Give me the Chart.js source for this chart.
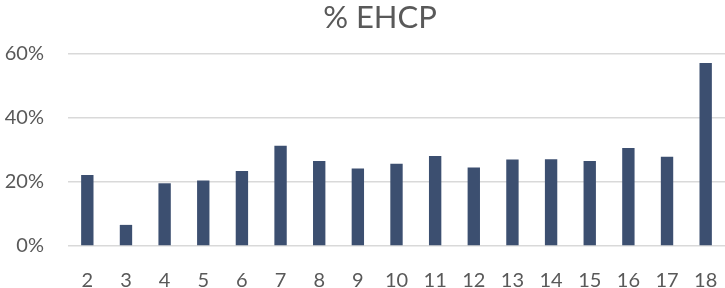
<!DOCTYPE html>
<html lang="en">
<head>
    <meta charset="UTF-8">
    <title>% EHCP</title>
    <script src="https://cdn.jsdelivr.net/npm/chart.js"></script>
    <style>
        html, body {
            margin: 0;
            padding: 0;
            background: #ffffff;
        }
        #wrap {
            width: 725px;
            height: 288px;
        }
    </style>
</head>
<body>
    <div id="wrap">
        <canvas id="chart" width="725" height="288"></canvas>
    </div>

    <script>
        // Year groups and % of pupils with an EHCP
        const years = ['2', '3', '4', '5', '6', '7', '8', '9', '10', '11', '12', '13', '14', '15', '16', '17', '18'];
        const ehcpPct = [22.2, 6.6, 19.6, 20.5, 23.4, 31.3, 26.6, 24.2, 25.7, 28.1, 24.5, 27.0, 27.1, 26.6, 30.6, 27.9, 57.2];
        const yTicks = [0, 20, 40, 60];
        const chartTitle = '% EHCP';

        const textColor = '#595959';
        const fontFamily = 'Lato, "Open Sans", sans-serif';

        // title sits a little right of the canvas centre in the original
        const titlePlugin = {
            id: 'offsetTitle',
            afterDraw(chart) {
                const ctx = chart.ctx;
                ctx.save();
                ctx.fillStyle = textColor;
                ctx.font = '31px ' + fontFamily;
                ctx.textAlign = 'center';
                ctx.textBaseline = 'middle';
                ctx.fillText(chartTitle, 380, 18);
                ctx.restore();
            }
        };

        new Chart(document.getElementById('chart'), {
            type: 'bar',
            data: {
                labels: years,
                datasets: [{
                    label: chartTitle,
                    data: ehcpPct,
                    backgroundColor: '#3C4F70',
                    borderWidth: 0,
                    categoryPercentage: 1,
                    barPercentage: 0.32
                }]
            },
            options: {
                responsive: false,
                animation: false,
                layout: {
                    padding: { top: 54, left: 0, right: -2, bottom: 0 }
                },
                plugins: {
                    legend: { display: false },
                    tooltip: { enabled: false },
                    title: { display: false }
                },
                scales: {
                    x: {
                        afterFit: axis => {
                            axis.height = 42;
                            // no side padding for the first/last label
                            axis.paddingLeft = 0;
                            axis.paddingRight = 0;
                        },
                        grid: { display: false, drawTicks: false },
                        border: { display: false },
                        ticks: {
                            color: textColor,
                            font: { family: fontFamily, size: 20 },
                            padding: 23,
                            maxRotation: 0,
                            autoSkip: false
                        }
                    },
                    y: {
                        min: 0,
                        max: 60,
                        afterBuildTicks: axis => {
                            axis.ticks = yTicks.map(v => ({ value: v }));
                        },
                        afterFit: axis => {
                            axis.width = 68;
                        },
                        grid: {
                            color: '#D9D9D9',
                            lineWidth: 1.5,
                            drawTicks: false
                        },
                        border: { display: false },
                        ticks: {
                            color: textColor,
                            font: { family: fontFamily, size: 20 },
                            padding: 24,
                            callback: v => v + '%'
                        }
                    }
                }
            },
            plugins: [titlePlugin]
        });
    </script>
</body>
</html>
